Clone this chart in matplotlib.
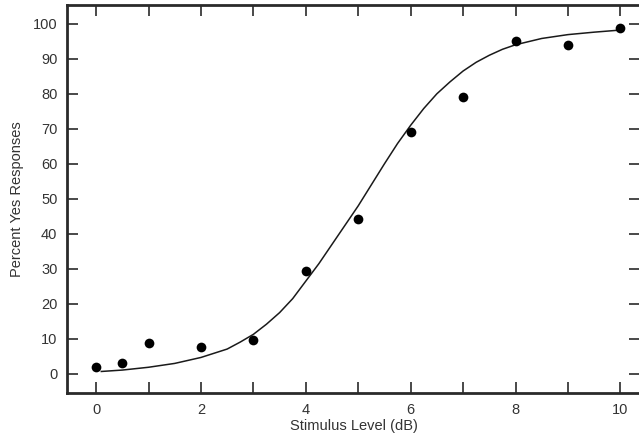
import numpy as np
import matplotlib
matplotlib.use("Agg")
import matplotlib.pyplot as plt

plt.rcParams['font.family'] = ['Liberation Sans', 'DejaVu Sans']

# Data points
stim_level = [0, 0.5, 1, 2, 3, 4, 5, 6, 7, 8, 9, 10]
pct_yes = [2.0, 3.0, 8.9, 7.7, 9.6, 29.5, 44.3, 69.1, 79.0, 95.0, 94.0, 98.8]

# Fitted curve
curve_x = [0.1, 0.5, 1, 1.5, 2, 2.5, 2.75, 3, 3.25, 3.5, 3.75, 4, 4.25, 4.5, 4.75,
           5, 5.25, 5.5, 5.75, 6, 6.25, 6.5, 6.75, 7, 7.25, 7.5, 7.75, 8,
           8.5, 9, 9.5, 10]
curve_y = [0.7, 1.1, 1.9, 3.0, 4.7, 7.1, 9.1, 11.3, 14.2, 17.5, 21.5, 26.5, 31.5, 37.0, 42.5,
           48.0, 54.0, 60.0, 65.8, 71.0, 75.8, 80.0, 83.4, 86.5, 89.0, 91.0, 92.7, 94.0,
           95.8, 96.9, 97.6, 98.2]

x_ticks = list(range(0, 11))
x_labels = [str(t) if t % 2 == 0 else "" for t in x_ticks]
y_ticks = list(range(0, 101, 10))

fig = plt.figure(figsize=(6.39, 4.41), dpi=100)
ax = fig.add_axes([0.105, 0.109, 0.897, 0.880])

ax.plot(curve_x, curve_y, color="#1a1a1a", lw=1.1)
ax.plot(stim_level, pct_yes, "o", color="black", markersize=7, markeredgewidth=0)

ax.set_xlim(-0.553, 10.38)
ax.set_ylim(-5.43, 105.4)
ax.set_xticks(x_ticks)
ax.set_xticklabels(x_labels)
ax.set_yticks(y_ticks)

for s in ax.spines.values():
    s.set_linewidth(2.0)
    s.set_color("#2a2a2a")

ax.tick_params(direction="in", length=8, width=1.2, color="#2a2a2a",
               labelsize=10.5, labelcolor="#333333", pad=7,
               top=True, right=True)

ax.set_xlabel("Stimulus Level (dB)", fontsize=10.5, color="#333333", labelpad=2)
ax.set_ylabel("Percent Yes Responses", fontsize=10.5, color="#333333", labelpad=6)

fig.savefig("out.png", dpi=100)
